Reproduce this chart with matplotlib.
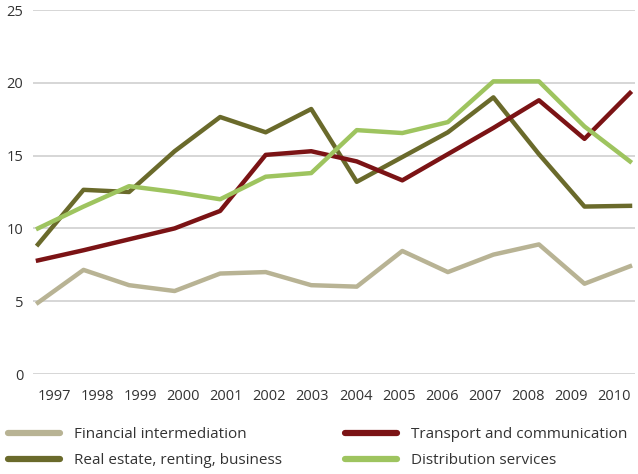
import numpy as np
import matplotlib.pyplot as plt

plt.rcParams['font.family'] = ['Open Sans', 'DejaVu Sans']

years = np.arange(1997, 2011)
year_labels = [str(y) for y in years]

financial = [4.9, 7.15, 6.1, 5.7, 6.9, 7.0, 6.1, 6.0, 8.45, 7.0, 8.2, 8.9, 6.2, 7.4]
transport = [7.8, 8.5, 9.25, 10.0, 11.2, 15.05, 15.3, 14.6, 13.3, 15.1, 16.9, 18.8, 16.15, 19.3]
real_estate = [8.9, 12.65, 12.5, 15.3, 17.65, 16.6, 18.2, 13.2, 14.9, 16.6, 19.0, 15.1, 11.5, 11.55]
distribution = [10.0, 11.5, 12.9, 12.5, 12.0, 13.55, 13.8, 16.75, 16.55, 17.3, 20.1, 20.1, 17.0, 14.6]

c_fin = '#b8b394'
c_trans = '#7b1315'
c_real = '#6a6a2b'
c_dist = '#9ec45f'
c_text = '#333333'

fig = plt.figure(figsize=(6.38, 4.74), dpi=100)
ax = fig.add_axes([33/638, 1 - 374/474, 602/638, 364/474])

lw = 3.2
l1, = ax.plot(years, financial, color=c_fin, lw=lw, label='Financial intermediation')
l2, = ax.plot(years, real_estate, color=c_real, lw=lw, label='Real estate, renting, business')
l3, = ax.plot(years, transport, color=c_trans, lw=lw, label='Transport and communication')
l4, = ax.plot(years, distribution, color=c_dist, lw=lw, label='Distribution services')

ax.set_ylim(0, 25)
ax.set_xlim(1997 - 5/45.7, 2010 + 5/45.7)
ax.set_yticks([0, 5, 10, 15, 20, 25])
# category labels sit on a slightly narrower spacing than the line points
ax.set_xticks(np.linspace(1997 + 16/45.7, 2010 - 16/45.7, len(years)))
ax.set_xticklabels(year_labels)
ax.yaxis.grid(True, color='#d0d0d0', lw=1.2)
ax.set_axisbelow(True)
for s in ax.spines.values():
    s.set_visible(False)
ax.tick_params(length=0, labelsize=10.5, colors=c_text)
ax.tick_params(axis='y', pad=7)
ax.tick_params(axis='x', pad=11)

common = dict(loc='upper left', frameon=False, fontsize=11, borderpad=0,
              borderaxespad=0, handlelength=3.4, handletextpad=0.95,
              labelspacing=0.75, labelcolor=c_text)
leg1 = fig.legend(handles=[l1, l2], bbox_to_anchor=(8/638, 1 - 427/474), **common)
leg2 = fig.legend(handles=[l3, l4], bbox_to_anchor=(345/638, 1 - 427/474), **common)
for leg in (leg1, leg2):
    for line in leg.get_lines():
        line.set_linewidth(4.5)
        line.set_solid_capstyle('round')

plt.savefig('out.png', dpi=100)
